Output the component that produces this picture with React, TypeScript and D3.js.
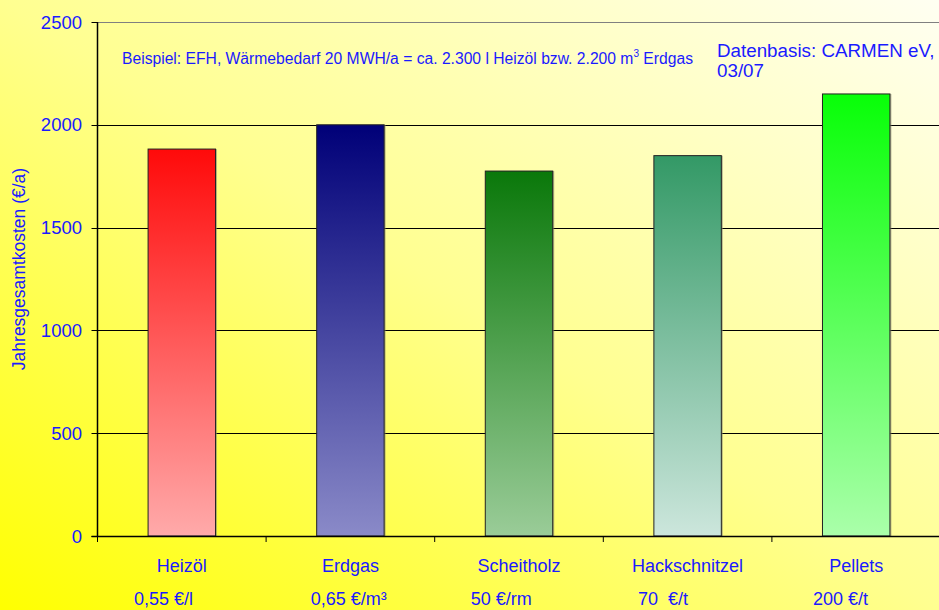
import React from "react";
import * as d3 from "d3";

const categories = ["Heizöl", "Erdgas", "Scheitholz", "Hackschnitzel", "Pellets"];
const prices = ["0,55 €/l", "0,65 €/m³", "50 €/rm", "70  €/t", "200 €/t"];
const costs = [1882, 2000, 1775, 1850, 2150];
const yTicks = [0, 500, 1000, 1500, 2000, 2500];
const topColors = ["#ff0a0a", "#000078", "#0a780a", "#339966", "#08ff08"];
const bottomColors = ["#ffaaaa", "#8a8ac8", "#9acc98", "#cce6dc", "#aaffaa"];

// layout: horizontal offset of each price label's left edge from its bar's left edge
const priceOffsets = [-14, -6, -14.5, -16, -9.5];

const W = 939;
const H = 610;
const left = 97.5;
const right = 940.5;
const top = 22;
const bottom = 536;
const blue = "#1a1aff";
const font = "'Liberation Sans', Arial, sans-serif";

export default function App() {
  const x = d3.scaleBand<string>().domain(categories).range([left, right]).paddingInner(0.6).paddingOuter(0.3);
  const y = d3.scaleLinear().domain([0, 2500]).range([bottom, top]);
  const step = x.step();
  const bw = x.bandwidth();
  const boundaries = d3.range(categories.length + 1).map((i) => left + i * step);

  return (
    <svg width={W} height={H} style={{ position: "absolute", left: 0, top: 0, display: "block" }} fontFamily={font}>
      <defs>
        <linearGradient id="bg" x1="0" y1="1" x2="1" y2="0">
          <stop offset="0" stopColor="#ffff00" />
          <stop offset="0.5" stopColor="#ffff90" />
          <stop offset="1" stopColor="#fffff2" />
        </linearGradient>
        {categories.map((c, i) => (
          <linearGradient key={c} id={`g${i}`} x1="0" y1="0" x2="0" y2="1">
            <stop offset="0" stopColor={topColors[i]} />
            <stop offset="1" stopColor={bottomColors[i]} />
          </linearGradient>
        ))}
      </defs>
      <rect x={0} y={0} width={W} height={H} fill="url(#bg)" />

      {/* gridlines */}
      {yTicks.map((t) =>
        t > 0 ? (
          <line key={t} x1={left} x2={W} y1={Math.round(y(t)) + 0.5} y2={Math.round(y(t)) + 0.5}
            stroke={t === 2500 ? "#808080" : "#000"} strokeWidth={1} />
        ) : null
      )}

      {/* bars */}
      {categories.map((c, i) => (
        <g key={c}>
          <rect x={(x(c) as number) + 1.5} y={y(costs[i])} width={bw} height={bottom - y(costs[i])} fill="#8a8a70" opacity={0.6} />
          <rect x={x(c)} y={y(costs[i])} width={bw} height={bottom - y(costs[i])} fill={`url(#g${i})`} stroke="#222" strokeWidth={1} />
        </g>
      ))}

      {/* axes */}
      <line x1={left} x2={left} y1={top} y2={bottom} stroke="#000" strokeWidth={1.5} />
      <line x1={left - 6} x2={W} y1={bottom + 0.5} y2={bottom + 0.5} stroke="#000" strokeWidth={1.5} />
      {yTicks.map((t) => (
        <g key={t}>
          <line x1={left - 6} x2={left} y1={Math.round(y(t)) + 0.5} y2={Math.round(y(t)) + 0.5} stroke="#000" strokeWidth={1} />
          <text x={82} y={y(t) + 6.5} textAnchor="end" fontSize={18.5} fill={blue}>{t}</text>
        </g>
      ))}
      {boundaries.map((b, i) => (
        <line key={i} x1={b} x2={b} y1={bottom} y2={bottom + 6} stroke="#000" strokeWidth={1} />
      ))}

      {/* category labels */}
      {categories.map((c, i) => (
        <g key={c}>
          <text x={(x(c) as number) + bw / 2} y={571.5} textAnchor="middle" fontSize={18} fill={blue}>{c}</text>
          <text x={(x(c) as number) + priceOffsets[i]} y={605} textAnchor="start" fontSize={18} fill={blue}
            style={{ whiteSpace: "pre" }}>{prices[i]}</text>
        </g>
      ))}

      {/* y axis title */}
      <text transform="translate(25,269) rotate(-90)" textAnchor="middle" fontSize={17.5} fill={blue}>
        Jahresgesamtkosten (€/a)
      </text>

      {/* annotations */}
      <text x={122} y={64} fontSize={15.6} fill={blue} textLength={571} lengthAdjust="spacingAndGlyphs">
        Beispiel: EFH, Wärmebedarf 20 MWH/a = ca. 2.300 l Heizöl bzw. 2.200 m<tspan dy={-7} fontSize={10}>3</tspan><tspan dy={7}> Erdgas</tspan>
      </text>
      <text x={717} y={56.5} fontSize={18.8} fill={blue}>Datenbasis: CARMEN eV,</text>
      <text x={717} y={77} fontSize={18.8} fill={blue}>03/07</text>
    </svg>
  );
}
